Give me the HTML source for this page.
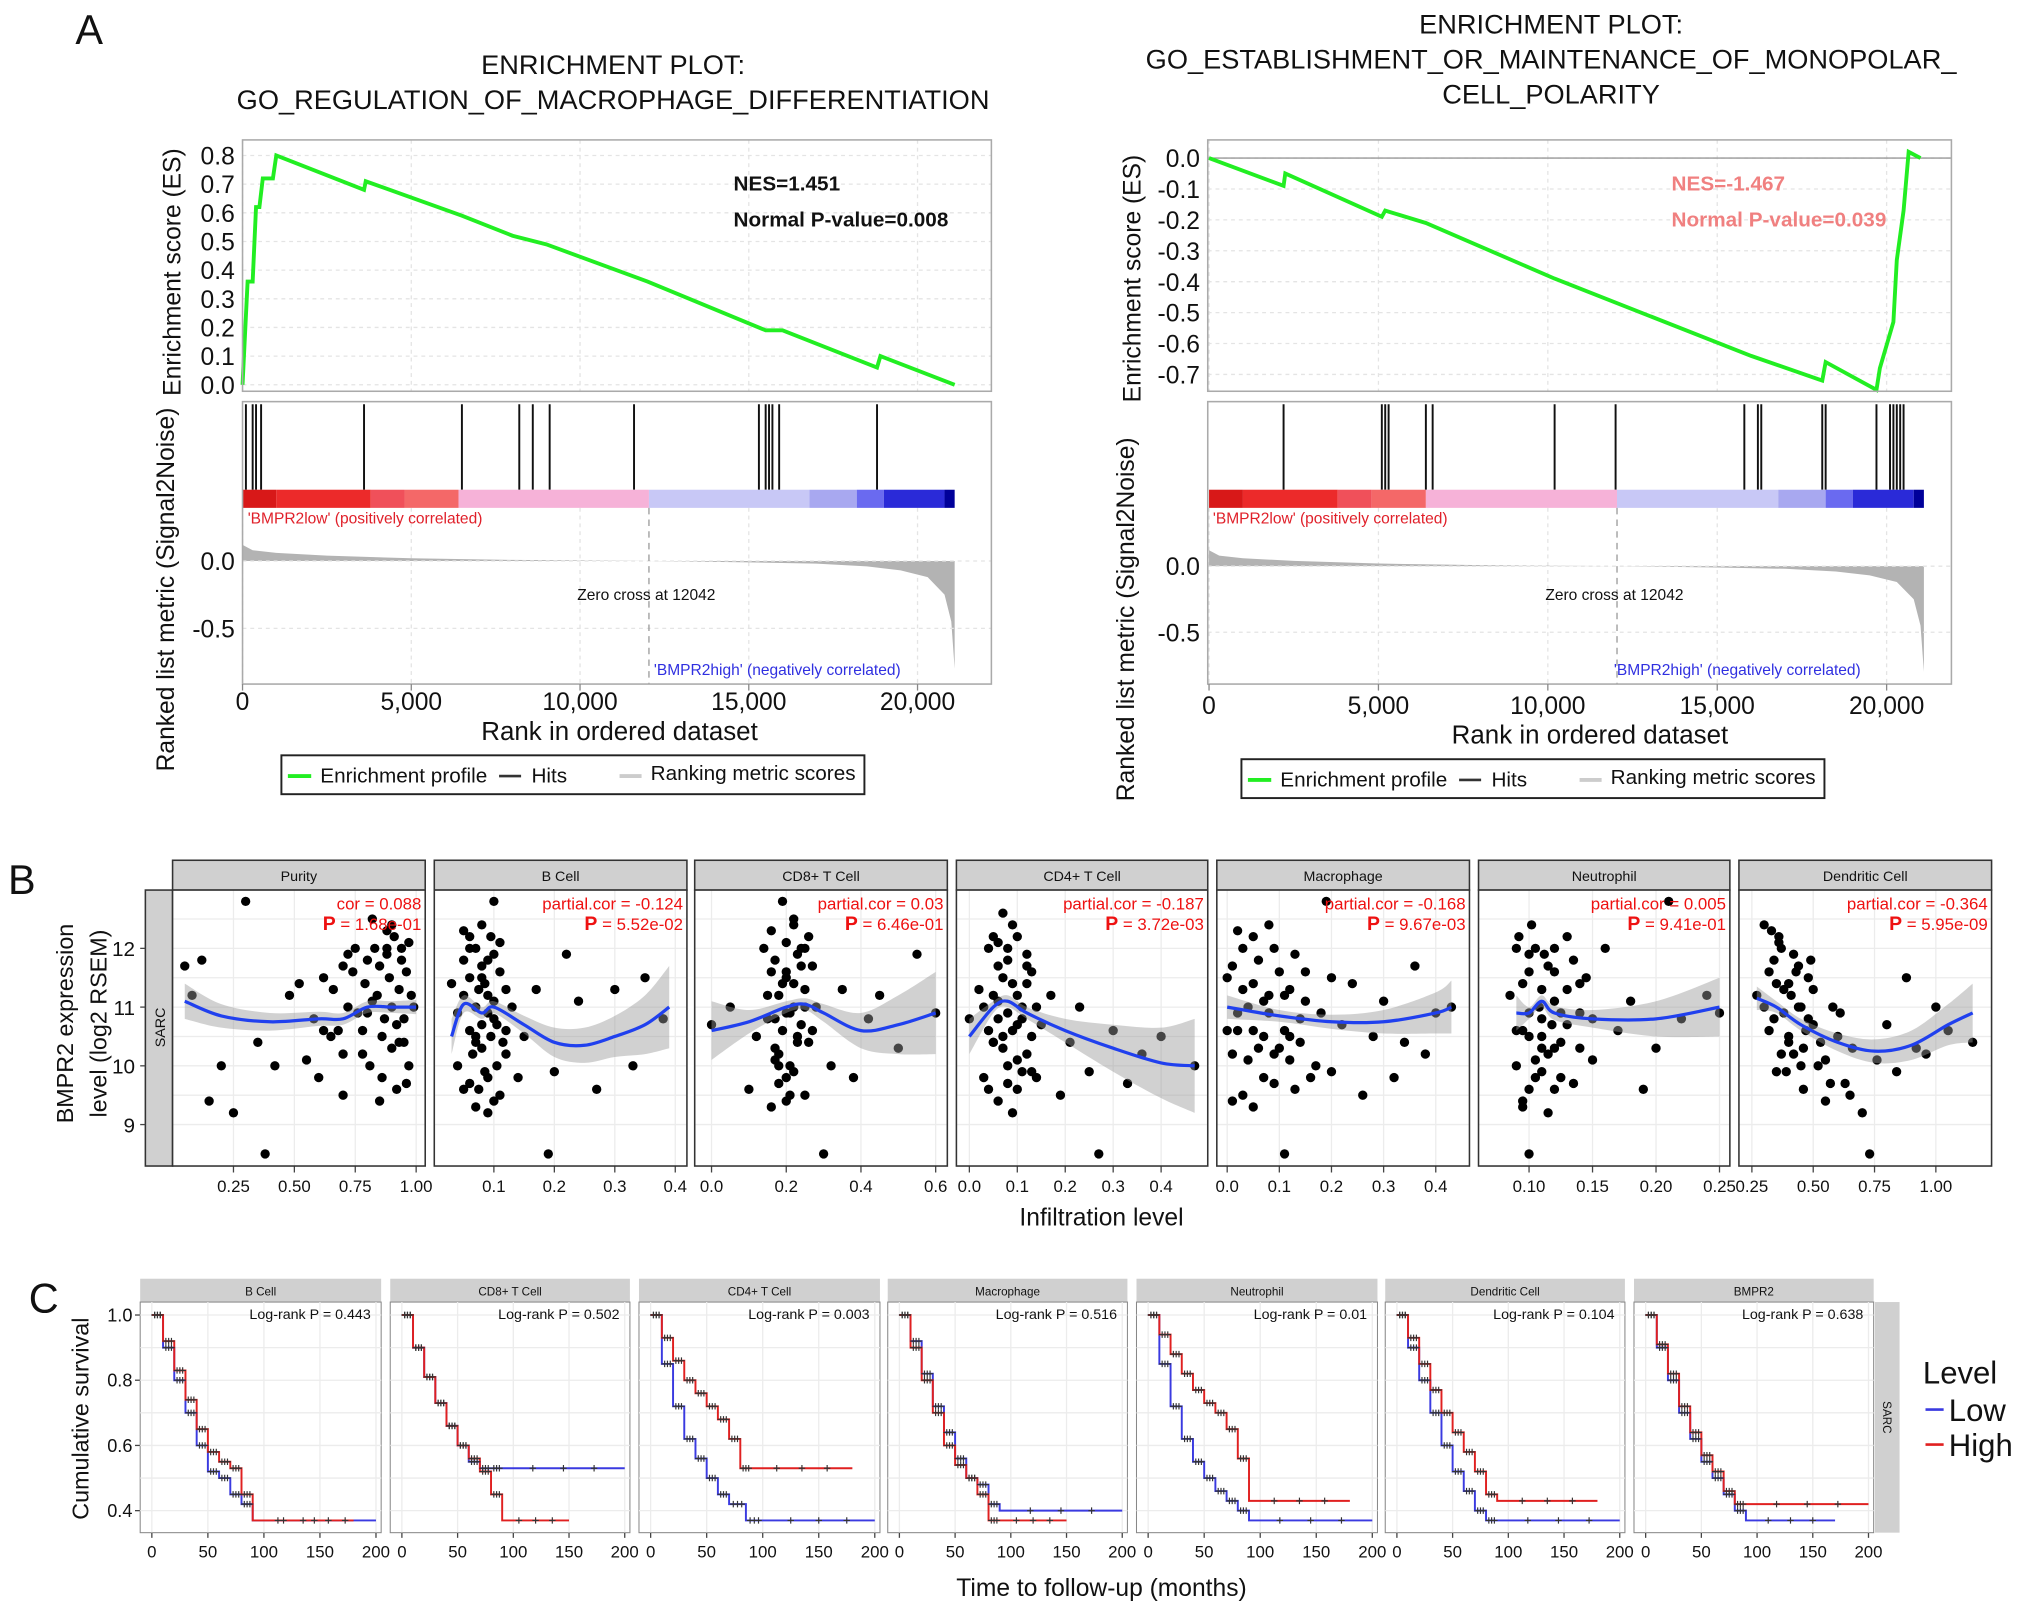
<!DOCTYPE html>
<html><head><meta charset="utf-8"><style>
html,body{margin:0;padding:0;background:#fff;}
svg{display:block;font-family:"Liberation Sans",Arial,sans-serif;}
</style></head><body>
<svg id="fig" width="2032" height="1613" viewBox="0 0 1568 1245" xmlns="http://www.w3.org/2000/svg"></svg>
<script>
// ===== Panel A data =====
const esLeftRank=[0,150,300,400,500,600,900,1000,3600,3650,6500,8000,9000,12000,15500,16000,18800,18900,21100];
const esLeftVal=[0,0.36,0.36,0.62,0.62,0.72,0.72,0.8,0.68,0.71,0.59,0.52,0.49,0.36,0.19,0.19,0.06,0.1,0];
const esRightRank=[0,2200,2250,5100,5200,6400,10200,16000,18100,18200,19700,19800,20200,20300,20500,20650,21000];
const esRightVal=[0,-0.09,-0.05,-0.19,-0.17,-0.21,-0.39,-0.64,-0.72,-0.66,-0.75,-0.68,-0.53,-0.33,-0.17,0.02,0];
const hitsLeft=[100,300,400,550,3600,6500,8200,8600,9100,11600,15300,15500,15600,15700,15900,18800];
const hitsRight=[2200,5100,5200,5300,6400,6600,10200,12000,15800,16200,16300,18100,18200,19700,20100,20200,20300,20400,20500];
const metricRank=[0,300,1000,2500,5000,8000,12042,15000,17000,18500,19500,20300,20800,21000,21100];
const metricVal=[0.12,0.08,0.06,0.04,0.02,0.008,0,-0.01,-0.02,-0.04,-0.07,-0.12,-0.25,-0.45,-0.8];
const rankTicks=[0,5000,10000,15000,20000];
const rankTickLabels=["0","5,000","10,000","15,000","20,000"];
const esLeftTicks=[0,0.1,0.2,0.3,0.4,0.5,0.6,0.7,0.8];
const esRightTicks=[0,-0.1,-0.2,-0.3,-0.4,-0.5,-0.6,-0.7];
const metricTicks=[0,-0.5];
const cbarEdges=[0,1000,3800,4800,6400,12042,16800,18200,19000,20800,21100];
const cbarColors=["#d81818","#ec2a2a","#f0505a","#f46868","#f6b2d8","#c8c8f6","#a8a8f0","#6a6af0","#2a2ad8","#00009a"];

// ===== Panel B data =====
const cellTypes=["Purity","B Cell","CD8+ T Cell","CD4+ T Cell","Macrophage","Neutrophil","Dendritic Cell"];
const corLabels=["cor = 0.088","partial.cor = -0.124","partial.cor = 0.03","partial.cor = -0.187","partial.cor = -0.168","partial.cor = 0.005","partial.cor = -0.364"];
const pLabels=["= 1.68e-01","= 5.52e-02","= 6.46e-01","= 3.72e-03","= 9.67e-03","= 9.41e-01","= 5.95e-09"];
const bTicks=[[0.25,0.5,0.75,1.0],[0.1,0.2,0.3,0.4],[0.0,0.2,0.4,0.6],[0.0,0.1,0.2,0.3,0.4],[0.0,0.1,0.2,0.3,0.4],[0.10,0.15,0.20,0.25],[0.25,0.5,0.75,1.0]];
const bTickLabels=[["0.25","0.50","0.75","1.00"],["0.1","0.2","0.3","0.4"],["0.0","0.2","0.4","0.6"],["0.0","0.1","0.2","0.3","0.4"],["0.0","0.1","0.2","0.3","0.4"],["0.10","0.15","0.20","0.25"],["0.25","0.50","0.75","1.00"]];
const exprTicks=[9,10,11,12];
const ptsX=[
[0.05,0.08,0.12,0.15,0.2,0.25,0.3,0.35,0.38,0.42,0.48,0.52,0.55,0.58,0.6,0.62,0.65,0.68,0.7,0.72,0.75,0.78,0.8,0.82,0.84,0.86,0.88,0.9,0.92,0.94,0.95,0.96,0.97,0.98,0.85,0.9,0.8,0.7,0.93,0.88,
 0.62,0.66,0.7,0.74,0.76,0.79,0.81,0.83,0.85,0.87,0.89,0.91,0.93,0.95,0.97,0.99,0.86,0.9,0.94,0.78,0.72,0.82,0.96,0.88,0.92],
[0.03,0.04,0.05,0.05,0.06,0.06,0.07,0.07,0.08,0.08,0.08,0.09,0.09,0.1,0.1,0.11,0.11,0.12,0.13,0.14,0.15,0.17,0.19,0.2,0.22,0.24,0.27,0.3,0.33,0.35,0.38,0.06,0.07,0.09,0.1,0.12,
 0.04,0.05,0.06,0.065,0.07,0.075,0.08,0.085,0.09,0.095,0.1,0.105,0.11,0.115,0.12,0.06,0.07,0.08,0.09,0.1,0.05,0.075,0.085,0.095,0.105],
[0.0,0.05,0.1,0.12,0.14,0.15,0.16,0.17,0.18,0.19,0.2,0.2,0.21,0.22,0.23,0.24,0.25,0.26,0.27,0.28,0.3,0.32,0.35,0.38,0.42,0.45,0.5,0.55,0.6,0.18,0.22,0.2,0.25,0.17,
 0.15,0.16,0.17,0.18,0.19,0.2,0.21,0.22,0.23,0.24,0.25,0.26,0.27,0.16,0.18,0.2,0.22,0.24,0.19,0.21,0.23,0.17,0.25,0.2,0.22],
[0.0,0.02,0.03,0.04,0.05,0.06,0.06,0.07,0.08,0.08,0.09,0.1,0.1,0.11,0.12,0.13,0.14,0.15,0.17,0.19,0.21,0.23,0.25,0.27,0.3,0.33,0.36,0.4,0.47,0.05,0.07,0.09,0.12,
 0.03,0.04,0.05,0.06,0.07,0.08,0.09,0.1,0.11,0.12,0.13,0.14,0.04,0.06,0.08,0.1,0.12,0.05,0.07,0.09,0.11,0.13,0.06,0.08,0.1],
[0.0,0.01,0.02,0.03,0.04,0.05,0.06,0.07,0.08,0.09,0.1,0.11,0.12,0.13,0.14,0.15,0.17,0.19,0.2,0.22,0.24,0.26,0.28,0.3,0.32,0.34,0.36,0.38,0.4,0.43,0.02,0.05,0.08,0.12,
 0.0,0.01,0.02,0.03,0.04,0.05,0.06,0.07,0.08,0.09,0.1,0.11,0.12,0.13,0.14,0.15,0.16,0.18,0.01,0.03,0.05,0.07,0.09,0.11,0.2],
[0.085,0.09,0.092,0.095,0.1,0.1,0.102,0.105,0.108,0.11,0.112,0.115,0.118,0.12,0.125,0.13,0.135,0.14,0.145,0.15,0.16,0.17,0.18,0.19,0.2,0.21,0.22,0.24,0.25,0.1,0.11,0.12,0.095,
 0.09,0.095,0.1,0.105,0.11,0.115,0.12,0.125,0.13,0.135,0.14,0.09,0.1,0.11,0.12,0.13,0.095,0.105,0.115,0.125,0.1,0.11,0.12,0.14,0.15],
[0.27,0.3,0.32,0.34,0.35,0.37,0.38,0.4,0.42,0.44,0.46,0.48,0.5,0.52,0.55,0.58,0.6,0.63,0.66,0.7,0.73,0.76,0.8,0.84,0.88,0.92,0.96,1.0,1.05,1.15,0.36,0.4,0.45,
 0.3,0.32,0.34,0.36,0.38,0.4,0.42,0.44,0.46,0.48,0.5,0.33,0.37,0.41,0.45,0.49,0.53,0.57,0.61,0.65,0.35,0.39,0.43,0.47,0.55]];
const ptsY=[
[11.7,11.2,11.8,9.4,10.0,9.2,12.8,10.4,8.5,10.0,11.2,11.4,10.1,10.8,9.8,11.5,10.5,10.6,9.5,11.0,12.0,10.2,11.8,12.5,11.2,10.5,12.3,11.0,9.6,12.0,10.8,11.6,10.0,11.2,9.4,12.4,10.9,11.7,10.4,11.9,
 10.6,11.3,10.2,11.6,10.9,11.4,10.0,12.0,11.7,10.8,11.5,12.2,11.3,10.4,12.1,11.0,9.8,10.3,11.8,10.6,11.9,11.1,9.7,12.0,10.7],
[11.4,10.0,11.8,9.6,12.2,10.6,11.0,9.3,12.4,10.3,11.5,9.8,11.2,12.8,10.8,11.6,9.5,10.2,11.0,9.8,10.5,11.3,8.5,9.9,11.9,11.1,9.6,11.3,10.0,11.5,10.8,12.0,10.4,9.2,11.9,10.6,
 10.9,11.2,11.5,10.2,12.0,11.3,10.7,9.9,11.8,10.5,11.1,10.0,12.1,10.4,11.3,9.7,10.5,11.7,10.9,9.4,12.3,9.6,11.4,12.2,10.7],
[10.7,11.0,9.6,10.5,12.0,11.2,9.3,11.8,10.2,12.8,11.5,9.8,10.9,12.4,10.4,11.7,9.5,12.2,10.6,11.0,8.5,10.0,11.3,9.8,10.8,11.2,10.3,11.9,10.9,10.0,11.4,9.4,12.0,10.8,
 10.8,11.6,10.3,11.2,10.6,12.1,10.0,11.0,11.9,10.7,11.3,10.4,11.7,12.3,9.7,10.9,9.9,12.0,11.4,9.5,10.5,10.1,11.0,11.6,12.5],
[10.8,11.3,9.8,12.0,10.4,11.7,9.4,12.6,10.9,10.0,11.4,12.2,9.6,11.0,10.2,11.6,9.8,10.7,11.2,9.5,10.4,11.0,9.9,8.5,10.6,9.7,10.2,10.5,10.0,11.2,10.5,9.2,11.9,
 11.0,10.6,12.2,11.1,10.3,11.8,10.6,11.2,9.9,11.4,10.5,11.0,9.6,10.8,12.0,10.1,11.7,10.4,11.5,12.4,10.8,9.9,12.1,9.7,10.7],
[11.5,10.2,12.3,9.5,11.0,10.6,11.8,9.8,10.9,12.0,10.3,8.5,11.3,9.6,10.8,11.6,10.0,12.8,9.9,10.7,11.4,9.5,10.5,11.1,9.8,10.4,11.7,10.2,10.9,11.0,10.6,9.3,11.2,10.5,
 10.6,11.7,10.9,12.0,10.1,11.4,10.3,11.1,12.4,9.7,11.6,10.6,10.1,11.9,10.4,11.1,9.8,10.9,9.4,11.3,12.2,10.5,10.2,11.2,11.5],
[11.2,10.0,12.2,9.4,11.6,10.5,12.4,9.8,11.0,10.3,11.9,9.2,10.7,12.0,10.4,11.3,9.7,10.9,11.5,10.1,12.0,10.6,11.1,9.6,10.3,12.8,10.8,11.2,10.9,8.5,10.8,9.6,10.6,
 10.6,11.4,10.9,12.0,11.3,10.2,11.6,9.8,10.7,11.8,10.3,12.0,9.6,10.5,11.1,12.2,9.3,10.1,11.7,10.9,11.9,9.9,10.3,11.4,10.8],
[11.2,12.4,10.6,11.8,9.9,12.0,10.9,11.4,10.2,11.7,9.6,10.8,11.3,10.0,9.4,11.0,10.5,9.7,10.3,9.2,8.5,10.1,10.7,9.9,11.5,10.3,10.2,11.0,10.6,10.4,12.2,10.4,11.0,
 11.0,11.6,10.8,12.1,11.3,10.5,11.9,11.0,10.3,11.5,10.7,12.3,10.2,11.2,10.0,11.8,10.4,9.7,10.9,9.5,11.4,9.9,11.6,10.6,10.1]];
const fitX=[[0.05,0.2,0.4,0.6,0.7,0.8,0.9,1.0],[0.03,0.05,0.08,0.1,0.15,0.2,0.25,0.3,0.35,0.39],[0,0.1,0.2,0.25,0.3,0.4,0.5,0.6],[0,0.05,0.08,0.12,0.2,0.3,0.4,0.47],[0,0.1,0.2,0.3,0.4,0.43],[0.09,0.1,0.11,0.12,0.15,0.2,0.25],[0.27,0.35,0.45,0.6,0.75,0.9,1.05,1.15]];
const fitY=[[11.1,10.85,10.75,10.8,10.8,11.0,11.0,11.0],[10.5,11.05,10.9,11.0,10.7,10.4,10.35,10.5,10.7,11.0],[10.6,10.75,11.0,11.05,10.9,10.6,10.7,10.9],[10.5,11.0,11.1,10.9,10.6,10.3,10.05,10.0],[11.0,10.85,10.75,10.75,10.9,11.0],[10.9,10.9,11.1,10.9,10.8,10.8,11.0],[11.15,11.0,10.7,10.4,10.25,10.35,10.7,10.9]];
const fitSE=[[0.3,0.2,0.15,0.12,0.1,0.1,0.1,0.12],[0.3,0.15,0.1,0.1,0.15,0.25,0.3,0.35,0.5,0.7],[0.5,0.2,0.1,0.1,0.15,0.3,0.5,0.7],[0.3,0.1,0.1,0.1,0.2,0.4,0.6,0.8],[0.2,0.1,0.12,0.2,0.35,0.45],[0.3,0.1,0.1,0.12,0.15,0.3,0.5],[0.2,0.1,0.1,0.15,0.2,0.25,0.35,0.5]];

// ===== Panel C data =====
const survNames=["B Cell","CD8+ T Cell","CD4+ T Cell","Macrophage","Neutrophil","Dendritic Cell","BMPR2"];
const logrankP=["0.443","0.502","0.003","0.516","0.01","0.104","0.638"];
const lowT=[[0,10,20,30,40,50,60,70,80,90,200],[0,10,20,30,40,50,60,70,80,90,200],[0,10,20,30,40,50,60,70,85,100,200],[0,10,20,30,40,50,60,70,80,90,200],[0,10,20,30,40,50,60,70,80,90,200],[0,10,20,30,40,50,60,70,80,90,200],[0,10,20,30,40,50,60,70,80,90,170]];
const lowS=[[1,0.9,0.8,0.7,0.6,0.52,0.5,0.45,0.42,0.37,0.37],[1,0.9,0.81,0.73,0.66,0.6,0.55,0.53,0.53,0.53,0.53],[1,0.85,0.72,0.62,0.56,0.5,0.45,0.42,0.37,0.37,0.37],[1,0.92,0.82,0.72,0.64,0.56,0.5,0.48,0.42,0.4,0.4],[1,0.85,0.72,0.62,0.55,0.5,0.46,0.43,0.4,0.37,0.37],[1,0.9,0.8,0.7,0.6,0.52,0.46,0.4,0.37,0.37,0.37],[1,0.9,0.8,0.7,0.62,0.55,0.5,0.45,0.4,0.37,0.37]];
const highT=[[0,10,20,30,40,50,60,70,80,90,180],[0,10,20,30,40,50,60,70,80,90,150],[0,10,20,30,40,50,60,70,80,90,180],[0,10,20,30,40,50,60,70,80,90,150],[0,10,20,30,40,50,60,70,80,90,180],[0,10,20,30,40,50,60,70,80,90,180],[0,10,20,30,40,50,60,70,80,90,200]];
const highS=[[1,0.92,0.83,0.74,0.65,0.58,0.55,0.53,0.45,0.37,0.37],[1,0.9,0.81,0.73,0.66,0.6,0.56,0.52,0.45,0.37,0.37],[1,0.93,0.86,0.8,0.76,0.72,0.68,0.62,0.53,0.53,0.53],[1,0.9,0.8,0.7,0.6,0.54,0.5,0.45,0.37,0.37,0.37],[1,0.94,0.88,0.82,0.77,0.73,0.7,0.65,0.56,0.43,0.43],[1,0.93,0.85,0.77,0.7,0.64,0.58,0.52,0.45,0.43,0.43],[1,0.91,0.82,0.72,0.64,0.57,0.52,0.46,0.42,0.42,0.42]];
const timeTicks=[0,50,100,150,200];
const survTicks=[0.4,0.6,0.8,1.0];

// ===== drawing =====
const NS="http://www.w3.org/2000/svg";
const svg=document.getElementById('fig');
function mk(tag,parent,attrs){const e=document.createElementNS(NS,tag);for(const k in attrs)e.setAttribute(k,attrs[k]);(parent||svg).appendChild(e);return e;}
function txt(parent,x,y,s,size,opts){opts=opts||{};const t=mk('text',parent,{x:x,y:y,'font-size':size,fill:opts.fill||'#111','text-anchor':opts.anchor||'start'});if(opts.weight)t.setAttribute('font-weight',opts.weight);if(opts.rot!==undefined)t.setAttribute('transform','rotate('+opts.rot+' '+x+' '+y+')');t.textContent=s;return t;}
function lin(d0,d1,r0,r1){return v=>r0+(v-d0)*(r1-r0)/(d1-d0);}
function smoothPath(pts){let d='M'+pts[0][0]+','+pts[0][1];for(let i=0;i<pts.length-1;i++){const p0=pts[Math.max(0,i-1)],p1=pts[i],p2=pts[i+1],p3=pts[Math.min(pts.length-1,i+2)];const c1=[p1[0]+(p2[0]-p0[0])/6,p1[1]+(p2[1]-p0[1])/6],c2=[p2[0]-(p3[0]-p1[0])/6,p2[1]-(p3[1]-p1[1])/6];d+=' C'+c1+' '+c2+' '+p2;}return d;}

let L=txt(null,58,34,'A',32);
L=txt(null,6,690,'B',32);
L=txt(null,22,1013,'C',32);

function gsea(cfg){
  const g=mk('g',null,{});
  
  
  const x=lin(0,20000,cfg.x0,cfg.x20k);
  const ey=lin(cfg.esA,cfg.esB,cfg.esAy,cfg.esBy);
  const my=lin(0,-0.5,cfg.m0y,cfg.m5y);
  cfg.titles.forEach((t,i)=>{const e=txt(g,cfg.tcx,cfg.ty+i*27,t,21,{anchor:'middle'});});
  rankTicks.forEach(r=>{mk('line',g,{x1:x(r),x2:x(r),y1:cfg.top,y2:302,stroke:'#e4e4e4','stroke-dasharray':'3,3'});mk('line',g,{x1:x(r),x2:x(r),y1:392,y2:528,stroke:'#e4e4e4','stroke-dasharray':'3,3'});});
  cfg.esTicks.forEach(v=>{mk('line',g,{x1:cfg.bx0,x2:cfg.bx1,y1:ey(v),y2:ey(v),stroke:'#e4e4e4','stroke-dasharray':'3,3'});
    const t=txt(g,cfg.bx0-6,ey(v)+7,v.toFixed(1),19,{anchor:'end'});});
  if(cfg.zeroLine) mk('line',g,{x1:cfg.bx0,x2:cfg.bx1,y1:ey(0),y2:ey(0),stroke:'#999'});
  const esp=mk('polyline',g,{points:cfg.rank.map((r,i)=>x(r)+','+ey(cfg.val[i])).join(' '),fill:'none',stroke:'#22ee22','stroke-width':3});
  
  
  mk('rect',g,{x:cfg.bx0,y:cfg.top,width:cfg.bx1-cfg.bx0,height:302-cfg.top,fill:'none',stroke:'#aaa','stroke-width':1.2});
  cfg.hits.forEach(h=>{const l=mk('line',g,{x1:x(h),x2:x(h),y1:312,y2:378,stroke:'#111','stroke-width':1.5});});
  for(let i=0;i<cbarColors.length;i++){const r=mk('rect',g,{x:x(cbarEdges[i]),y:378,width:x(cbarEdges[i+1])-x(cbarEdges[i]),height:14,fill:cbarColors[i]});}
  const pts=metricRank.map((r,i)=>x(r)+','+my(metricVal[i]));
  const ar=mk('polygon',g,{points:x(0)+','+my(0)+' '+pts.join(' ')+' '+x(21100)+','+my(0),fill:'#b3b3b3'});
  
  
  metricTicks.forEach(v=>{mk('line',g,{x1:cfg.bx0,x2:cfg.bx1,y1:my(v),y2:my(v),stroke:'#e4e4e4','stroke-dasharray':'3,3'});
    const t=txt(g,cfg.bx0-6,my(v)+7,v.toFixed(1),19,{anchor:'end'});});
  mk('line',g,{x1:x(12042),x2:x(12042),y1:392,y2:528,stroke:'#999','stroke-dasharray':'5,4'});
  mk('rect',g,{x:cfg.bx0,y:310,width:cfg.bx1-cfg.bx0,height:218,fill:'none',stroke:'#aaa','stroke-width':1.2});
  let t=txt(g,cfg.bx0+4,404,"'BMPR2low' (positively correlated)",12,{fill:'#e0202a'});
  t=txt(g,x(12042)-2,463,'Zero cross at 12042',12,{anchor:'middle'});
  t=txt(g,cfg.bx1-70,521,"'BMPR2high' (negatively correlated)",12,{fill:'#3030e0',anchor:'end'});
  rankTicks.forEach((r,i)=>{mk('line',g,{x1:x(r),x2:x(r),y1:528,y2:533,stroke:'#888'});const t=txt(g,x(r),cfg.tickY,rankTickLabels[i],19,{anchor:'middle'});});
  t=txt(g,cfg.xlx,cfg.tickY+23,'Rank in ordered dataset',20,{anchor:'middle'});
  t=txt(g,cfg.ylx,cfg.esLabY,'Enrichment score (ES)',19,{anchor:'middle',rot:-90});
  t=txt(g,cfg.ylx-5,cfg.mLabY,'Ranked list metric (Signal2Noise)',19,{anchor:'middle',rot:-90});
  t=txt(g,cfg.statX,147,cfg.nes,16,{fill:cfg.statColor,weight:'bold'});
  t=txt(g,cfg.statX,175,cfg.pv,16,{fill:cfg.statColor,weight:'bold'});
  const lg=mk('g',g,{});
  
  
  mk('rect',lg,{x:cfg.lgx,y:cfg.lgy,width:450,height:30,fill:'#fff',stroke:'#222','stroke-width':1.5});
  mk('line',lg,{x1:cfg.lgx+5,x2:cfg.lgx+23,y1:cfg.lgy+16,y2:cfg.lgy+16,stroke:'#22ee22','stroke-width':3});
  txt(lg,cfg.lgx+30,cfg.lgy+21,'Enrichment profile',16);
  mk('line',lg,{x1:cfg.lgx+168,x2:cfg.lgx+185,y1:cfg.lgy+16,y2:cfg.lgy+16,stroke:'#333','stroke-width':2});
  txt(lg,cfg.lgx+193,cfg.lgy+21,'Hits',16);
  mk('line',lg,{x1:cfg.lgx+261,x2:cfg.lgx+278,y1:cfg.lgy+16,y2:cfg.lgy+16,stroke:'#ccc','stroke-width':3});
  txt(lg,cfg.lgx+285,cfg.lgy+19,'Ranking metric scores',16);
}
gsea({name:'gsea-plot-macrophage-differentiation',titles:['ENRICHMENT PLOT:','GO_REGULATION_OF_MACROPHAGE_DIFFERENTIATION'],tcx:473,ty:57,
  x0:187,x20k:708,bx0:187,bx1:765,top:108,esA:0,esB:0.8,esAy:297,esBy:120,m0y:433,m5y:485,esTicks:esLeftTicks,zeroLine:false,
  rank:esLeftRank,val:esLeftVal,hits:hitsLeft,tickY:548,xlx:478,ylx:139,esLabY:210,mLabY:455,
  statX:566,nes:'NES=1.451',pv:'Normal P-value=0.008',statColor:'#111',lgx:217,lgy:583});
gsea({name:'gsea-plot-monopolar-cell-polarity',titles:['ENRICHMENT PLOT:','GO_ESTABLISHMENT_OR_MAINTENANCE_OF_MONOPOLAR_','CELL_POLARITY'],tcx:1197,ty:26,
  x0:933,x20k:1456,bx0:932,bx1:1506,top:108,esA:0,esB:-0.7,esAy:122,esBy:289,m0y:437,m5y:488,esTicks:esRightTicks,zeroLine:true,
  rank:esRightRank,val:esRightVal,hits:hitsRight,tickY:551,xlx:1227,ylx:880,esLabY:215,mLabY:478,
  statX:1290,nes:'NES=-1.467',pv:'Normal P-value=0.039',statColor:'#f08080',lgx:958,lgy:586});

// ===== Panel B =====
const bFacets=[[133,328],[335,530],[536,731],[738,932],[939,1134],[1141,1335],[1342,1537]];
const bScale=[[0.25,1.0,180,321],[0.1,0.4,381,521],[0.0,0.6,549,722],[0.0,0.4,748,896],[0.0,0.4,947,1108],[0.10,0.25,1180,1327],[0.25,1.0,1352,1494]];
const ey=lin(9,12,868,732);
const gB=mk('g',null,{});


let s=mk('rect',gB,{x:112,y:687,width:21,height:213,fill:'#d0d0d0',stroke:'#333','stroke-width':1.2});


txt(gB,127,793,'SARC',11,{anchor:'middle',rot:-90});
exprTicks.forEach(v=>{mk('line',gB,{x1:108,x2:112,y1:ey(v),y2:ey(v),stroke:'#444'});const t=txt(gB,104,ey(v)+6,String(v),16,{anchor:'end'});});
let tb=txt(gB,56,790,'BMPR2 expression',18,{anchor:'middle',rot:-90});
tb=txt(gB,82,790,'level (log2 RSEM)',18,{anchor:'middle',rot:-90});
tb=txt(gB,850,946,'Infiltration level',19,{anchor:'middle'});
bFacets.forEach((f,i)=>{
  const g=mk('g',gB,{});
  
  
  const sx=lin(bScale[i][0],bScale[i][1],bScale[i][2],bScale[i][3]);
  mk('rect',g,{x:f[0],y:664,width:f[1]-f[0],height:23,fill:'#d0d0d0',stroke:'#333','stroke-width':1.2});
  txt(g,(f[0]+f[1])/2,680,cellTypes[i],11,{anchor:'middle'});
  mk('rect',g,{x:f[0],y:687,width:f[1]-f[0],height:213,fill:'#fff'});
  [9,9.5,10,10.5,11,11.5,12,12.5].forEach(v=>mk('line',g,{x1:f[0],x2:f[1],y1:ey(v),y2:ey(v),stroke:'#ececec'}));
  bTicks[i].forEach((v,k)=>{mk('line',g,{x1:sx(v),x2:sx(v),y1:687,y2:900,stroke:'#ececec'});mk('line',g,{x1:sx(v),x2:sx(v),y1:900,y2:905,stroke:'#444'});
    const t=txt(g,sx(v),920,bTickLabels[i][k],13,{anchor:'middle'});});
  ptsX[i].forEach((v,k)=>{const c=mk('circle',g,{cx:sx(v),cy:ey(ptsY[i][k]),r:3.6,fill:'#000'});});
  const up=fitX[i].map((v,k)=>[sx(v),ey(fitY[i][k]+fitSE[i][k])]);
  const dn=fitX[i].map((v,k)=>[sx(v),ey(fitY[i][k]-fitSE[i][k])]).reverse();
  const band=mk('path',g,{d:smoothPath(up)+' L'+smoothPath(dn).slice(1)+' Z',fill:'#999','fill-opacity':0.45});
  
  
  const fit=mk('path',g,{d:smoothPath(fitX[i].map((v,k)=>[sx(v),ey(fitY[i][k])])),fill:'none',stroke:'#2040ee','stroke-width':2.5});
  
  
  mk('rect',g,{x:f[0],y:687,width:f[1]-f[0],height:213,fill:'none',stroke:'#333','stroke-width':1.2});
  let t=txt(g,f[1]-3,702,corLabels[i],13,{anchor:'end',fill:'#ee1111'});
  t=mk('text',g,{x:f[1]-3,y:718,'font-size':13,fill:'#ee1111','text-anchor':'end'});
  
  
  const b=mk('tspan',t,{'font-weight':'bold','font-size':15});b.textContent='P';
  const r=mk('tspan',t,{});r.textContent=' '+pLabels[i];
});

// ===== Panel C =====
const cFacets=[[108,294],[301,486],[493,679],[685,870],[877,1063],[1069,1254],[1261,1446]];
const sy=lin(1.0,0.4,1015,1166);
const gC=mk('g',null,{});


survTicks.forEach(v=>{mk('line',gC,{x1:104,x2:108,y1:sy(v),y2:sy(v),stroke:'#444'});const t=txt(gC,102,sy(v)+5,v.toFixed(1),14,{anchor:'end'});});
let tc=txt(gC,68,1095,'Cumulative survival',18,{anchor:'middle',rot:-90});
tc=txt(gC,850,1232,'Time to follow-up (months)',19,{anchor:'middle'});
s=mk('rect',gC,{x:1447,y:1005,width:19,height:178,fill:'#d0d0d0'});


txt(gC,1453,1094,'SARC',9,{anchor:'middle',rot:90});
function stepPath(ts,ss,tx){let d='M'+tx(ts[0])+','+sy(ss[0]);for(let i=1;i<ts.length;i++){d+=' H'+tx(ts[i])+' V'+sy(ss[i]);}return d;}
function censorMarks(g,ts,ss,tx,color){
  for(let i=0;i<ts.length-1;i++){
    for(let k=1;k<=3;k++){const xx=tx(ts[i]+(ts[i+1]-ts[i])*k/4),yy=sy(ss[i]);
      const p=mk('path',g,{d:'M'+(xx-2.5)+','+yy+' H'+(xx+2.5)+' M'+xx+','+(yy-2.5)+' V'+(yy+2.5),stroke:color,'stroke-width':0.9});
      
      }
  }
}
cFacets.forEach((f,i)=>{
  const g=mk('g',gC,{});
  
  
  const tx=lin(0,200,f[0]+9,f[1]-4);
  mk('rect',g,{x:f[0],y:987,width:f[1]-f[0],height:18,fill:'#d0d0d0'});
  txt(g,(f[0]+f[1])/2,1000,survNames[i],9,{anchor:'middle'});
  mk('rect',g,{x:f[0],y:1005,width:f[1]-f[0],height:178,fill:'#fff',stroke:'#888','stroke-width':0.8});
  [0.4,0.5,0.6,0.7,0.8,0.9,1.0].forEach(v=>mk('line',g,{x1:f[0],x2:f[1],y1:sy(v),y2:sy(v),stroke:'#ececec'}));
  timeTicks.forEach(v=>{mk('line',g,{x1:tx(v),x2:tx(v),y1:1005,y2:1183,stroke:'#ececec'});mk('line',g,{x1:tx(v),x2:tx(v),y1:1183,y2:1187,stroke:'#444'});
    const t=txt(g,tx(v),1202,String(v),13,{anchor:'middle'});});
  const lo=mk('path',g,{d:stepPath(lowT[i],lowS[i],tx),fill:'none',stroke:'#3a3ae0','stroke-width':1.5});
  
  
  const hi=mk('path',g,{d:stepPath(highT[i],highS[i],tx),fill:'none',stroke:'#e02020','stroke-width':1.5});
  
  
  censorMarks(g,lowT[i],lowS[i],tx,'#333');
  censorMarks(g,highT[i],highS[i],tx,'#333');
  const t=txt(g,f[1]-8,1018,'Log-rank P = '+logrankP[i],11,{anchor:'end'});
  
  
});
const lgC=mk('g',null,{});


txt(lgC,1484,1068,'Level',24);
mk('line',lgC,{x1:1486,x2:1500,y1:1088,y2:1088,stroke:'#3a3ae0','stroke-width':2});
txt(lgC,1504,1097,'Low',24);
mk('line',lgC,{x1:1486,x2:1500,y1:1115,y2:1115,stroke:'#e02020','stroke-width':2});
txt(lgC,1504,1124,'High',24);
</script>
</body></html>
